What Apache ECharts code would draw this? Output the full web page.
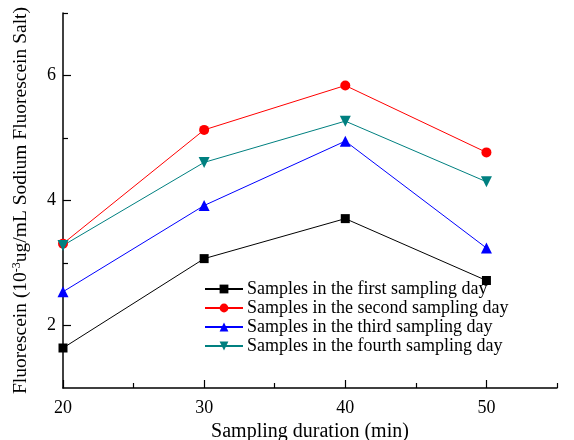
<!DOCTYPE html>
<html>
<head>
<meta charset="utf-8">
<script src="https://cdn.jsdelivr.net/npm/echarts@6/dist/echarts.min.js"></script>
<style>html,body{margin:0;padding:0;background:#fff}#c{width:574px;height:440px}</style>
</head>
<body>
<div id="c"></div>
<script>
var durations = [20, 30, 40, 50];
var day1 = [1.64, 3.07, 3.71, 2.72];
var day2 = [3.31, 5.13, 5.84, 4.77];
var day3 = [2.54, 3.92, 4.95, 3.24];
var day4 = [3.28, 4.61, 5.27, 4.30];
var seriesNames = ['Samples in the first sampling day','Samples in the second sampling day','Samples in the third sampling day','Samples in the fourth sampling day'];
var xMajorTicks = [20, 30, 40, 50];
var xMinorTicks = [25, 35, 45, 55];
var yMajorTicks = [2, 4, 6];
var yMinorTicks = [3, 5, 7];

var font = 'Liberation Serif';
function pts(vals){ return durations.map(function(d,i){ return [d, vals[i]]; }); }
function mk(name, vals, color, symbol, size){
  return {name:name, type:'line', data:pts(vals), symbol:symbol, symbolSize:size,
    lineStyle:{color:color, width:1}, itemStyle:{color:color}, animation:false};
}
function labelFor(list){ return function(v){ return list.indexOf(v) >= 0 ? String(v) : ''; }; }
var chart = echarts.init(document.getElementById('c'));
chart.setOption({
  backgroundColor:'#fff',
  textStyle:{fontFamily:font, color:'#000'},
  grid:{left:63, right:17, top:13, bottom:52, outerBoundsMode:'none', containLabel:false},
  legend:{orient:'vertical', left:204, top:280, padding:0, itemWidth:38, itemHeight:11, itemGap:1,
    textStyle:{fontFamily:font, fontSize:18, color:'#000', padding:[0,0,0,-1]}, data:seriesNames},
  xAxis:[{type:'value', min:20, max:55, interval:5,
    name:'Sampling duration (min)', nameLocation:'middle', nameGap:34,
    nameTextStyle:{fontFamily:font, fontSize:20, color:'#000'},
    axisLine:{show:true, lineStyle:{color:'#000', width:1.5}},
    axisTick:{show:true, inside:true, length:8, customValues:xMajorTicks, lineStyle:{color:'#000', width:1.2}},
    axisLabel:{show:true, formatter:labelFor(xMajorTicks), fontFamily:font, fontSize:18, color:'#000', margin:11},
    splitLine:{show:false}},
   {type:'value', min:20, max:55, interval:5, position:'bottom',
    axisLine:{show:false},
    axisTick:{show:true, inside:true, length:5, customValues:xMinorTicks, lineStyle:{color:'#000', width:1.2}},
    axisLabel:{show:false}, splitLine:{show:false}}],
  yAxis:[{type:'value', min:1, max:7, interval:1,
    name:'Fluorescein (10{sup|-3}ug/mL Sodium Fluorescein Salt)', nameLocation:'middle', nameGap:32,
    nameTextStyle:{fontFamily:font, fontSize:19.5, color:'#000',
      rich:{sup:{fontFamily:font, fontSize:12, color:'#000', verticalAlign:'top', padding:[0,0,8,0]}}},
    axisLine:{show:true, lineStyle:{color:'#000', width:1.5}},
    axisTick:{show:true, inside:true, length:8, customValues:yMajorTicks, lineStyle:{color:'#000', width:1.2}},
    axisLabel:{show:true, formatter:labelFor(yMajorTicks), fontFamily:font, fontSize:18, color:'#000', margin:7},
    splitLine:{show:false}},
   {type:'value', min:1, max:7, interval:1, position:'left',
    axisLine:{show:false},
    axisTick:{show:true, inside:true, length:5, customValues:yMinorTicks, lineStyle:{color:'#000', width:1.2}},
    axisLabel:{show:false}, splitLine:{show:false}}],
  series:[
    mk(seriesNames[0], day1, '#000000', 'rect', 9),
    mk(seriesNames[1], day2, '#ff0000', 'circle', 10),
    mk(seriesNames[2], day3, '#0000ff', 'triangle', 11),
    mk(seriesNames[3], day4, '#008080', 'path://M0,0 L10,0 L5,9 Z', 11)
  ]
});
</script>
</body>
</html>
